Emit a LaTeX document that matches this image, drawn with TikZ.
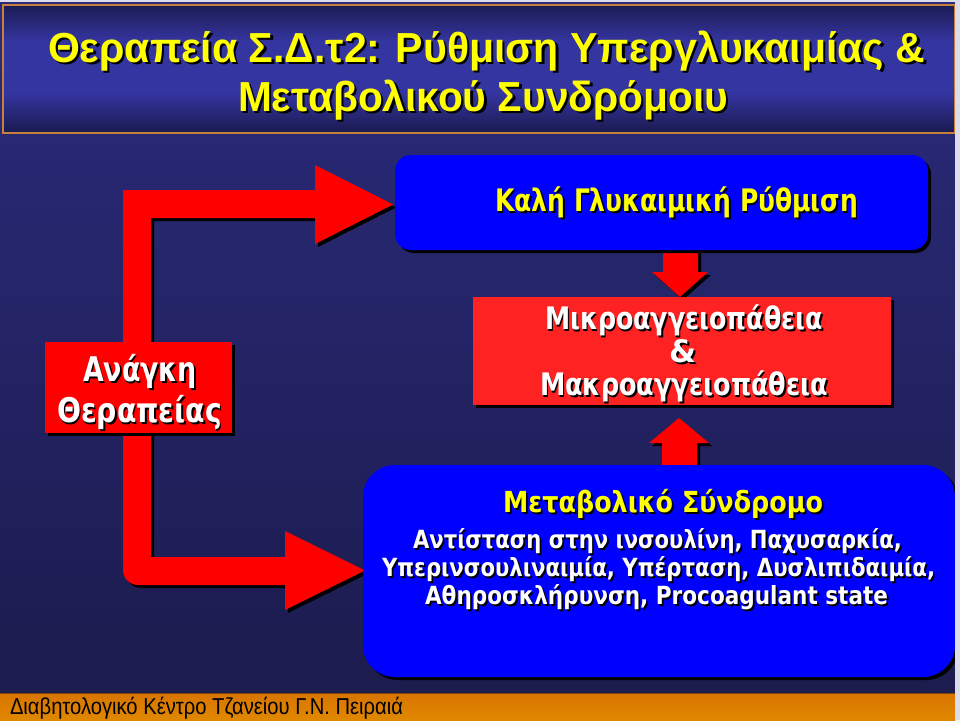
\documentclass[tikz,border=0pt]{standalone}
\usepackage{fontspec}
\usepackage{graphicx}
\newfontfamily\arialf{Liberation Sans}
\newfontfamily\comicf{DejaVu Sans}
\definecolor{bgtop}{HTML}{2B2B7C}
\definecolor{bgmid}{HTML}{333399}
\definecolor{bgbot}{HTML}{1B1B4C}
\definecolor{tttop}{HTML}{1C1C54}
\definecolor{ttmid}{HTML}{3535A2}
\definecolor{ttbot}{HTML}{1A1A50}
\definecolor{ttborder}{HTML}{C8803F}
\definecolor{fttop}{HTML}{D87400}
\definecolor{ftmid}{HTML}{FFAA00}
\definecolor{ftbot}{HTML}{E08800}
\definecolor{arrred}{HTML}{FF0000}
\definecolor{midred}{HTML}{FF2222}
\definecolor{boxblue}{HTML}{0000FF}
\definecolor{txtyellow}{HTML}{FFFF00}
\definecolor{edgegrey}{HTML}{DCDCEA}
\newsavebox\fitbox
\newcommand\fitto[2]{\sbox\fitbox{#2}\pgfmathsetmacro\fitratio{#1/\the\wd\fitbox}\scalebox{\fitratio}[1]{\usebox\fitbox}}
\newcommand\shtxt[3]{\makebox[0pt][l]{\hspace*{#2}\raisebox{-#2}{\color{black}#3}}{\color{#1}#3}}
\newcommand\titlef{\arialf\bfseries\fontsize{42}{46}\selectfont}
\newcommand\goodf{\comicf\bfseries\fontsize{31}{36}\selectfont}
\newcommand\needf{\comicf\bfseries\fontsize{34}{38}\selectfont}
\newcommand\midf{\comicf\bfseries\fontsize{31}{36}\selectfont}
\newcommand\headf{\comicf\bfseries\fontsize{29}{34}\selectfont}
\newcommand\linef{\comicf\bfseries\fontsize{25}{29}\selectfont}
\newcommand\footf{\arialf\fontsize{23}{26}\selectfont}
\tikzset{
  shd/.style={preaction={fill=black, transform canvas={shift={(3pt,-3pt)}}}},
  boxnode/.style={inner sep=0pt, outer sep=0pt, draw=none, shd},
  txt/.style={inner sep=0pt, outer sep=0pt},
  redshape/.style={fill=arrred, shd}
}
\begin{document}
\begin{tikzpicture}[x=1pt,y=-1pt]
\useasboundingbox (0,0) rectangle (960,720);
% page and slide background
\fill[edgegrey] (0,0) rectangle (960,720);
\shade[top color=bgtop, middle color=bgmid, bottom color=bgbot] (0,2) rectangle (955,720);
% title banner
\shade[top color=tttop, bottom color=ttmid] (3,5) rectangle (955,42);
\fill[ttmid] (3,41.5) rectangle (955,92.5);
\shade[top color=ttmid, bottom color=ttbot] (3,92) rectangle (955,133);
\draw[ttborder, line width=1.5pt] (3,5) rectangle (955,133);
% footer
\shade[top color=fttop, middle color=ftmid, bottom color=ftbot] (0,693) rectangle (955,720);
\draw[fttop!60!black, line width=1pt] (0,693) -- (955,693);

% big bracket arrow
\draw[redshape, draw=none] (123,190) -- (315,190) -- (315,165) -- (393,204.5) -- (315,244) -- (315,218)
  -- (151,218) -- (151,557) -- (285,557) -- (285,531) -- (365,570.5) -- (285,610) -- (285,585)
  -- (138,585) .. controls (129.7,585) and (123,578.3) .. (123,570) -- cycle;
% down arrow
\draw[redshape, draw=none] (663,250) -- (698,250) -- (698,272) -- (708,272) -- (680,297) -- (652,272) -- (663,272) -- cycle;
% up arrow
\draw[redshape, draw=none] (679,418) -- (709,443) -- (697,443) -- (697,465) -- (662,465) -- (662,443) -- (649,443) -- cycle;

% boxes
\node[boxnode, fill=boxblue, rounded corners=16pt, minimum width=533pt, minimum height=95pt] (good) at (661.5,202.5) {};
\node[boxnode, fill=arrred, minimum width=187pt, minimum height=91pt] (need) at (138.5,387.5) {};
\node[boxnode, fill=midred, minimum width=418pt, minimum height=108pt] (mid) at (682,351) {};
\node[boxnode, fill=boxblue, rounded corners=32pt, minimum width=592pt, minimum height=212pt] (meta) at (659,571) {};
\fill[edgegrey] (955,0) rectangle (960,720);

% title text
\node[txt, anchor=base west] (t1) at (48,62) {\fitto{877}{\titlef\shtxt{txtyellow}{2.5pt}{Θεραπεία Σ.Δ.τ2: Ρύθμιση Υπεργλυκαιμίας \&}}};
\node[txt, anchor=base west] (t2) at (238,111) {\fitto{490}{\titlef\shtxt{txtyellow}{2.5pt}{Μεταβολικού Συνδρόμοιυ}}};

% box texts
\node[txt, anchor=base west] (goodtxt) at (495,211) {\fitto{363}{\goodf\shtxt{txtyellow}{2pt}{Καλή Γλυκαιμική Ρύθμιση}}};
\node[txt, anchor=base west] (need1) at (83,381) {\fitto{114}{\needf\shtxt{white}{2pt}{Ανάγκη}}};
\node[txt, anchor=base west] (need2) at (57,422) {\fitto{165}{\needf\shtxt{white}{2pt}{Θεραπείας}}};
\node[txt, anchor=base west] (mid1) at (545,329) {\fitto{278}{\midf\shtxt{white}{2pt}{Μικροαγγειοπάθεια}}};
\node[txt, anchor=base] (mid2) at (683,362) {\midf\shtxt{white}{2pt}{\&}};
\node[txt, anchor=base west] (mid3) at (540,395) {\fitto{288}{\midf\shtxt{white}{2pt}{Μακροαγγειοπάθεια}}};
\node[txt, anchor=base west] (head) at (503,512) {\fitto{320}{\headf\shtxt{txtyellow}{2pt}{Μεταβολικό Σύνδρομο}}};
\node[txt, anchor=base west] (l1) at (413,548) {\fitto{489}{\linef\shtxt{white}{2pt}{Αντίσταση στην ινσουλίνη, Παχυσαρκία,}}};
\node[txt, anchor=base west] (l2) at (382,576) {\fitto{553}{\linef\shtxt{white}{2pt}{Υπερινσουλιναιμία, Υπέρταση, Δυσλιπιδαιμία,}}};
\node[txt, anchor=base west] (l3) at (425,604) {\fitto{463}{\linef\shtxt{white}{2pt}{Αθηροσκλήρυνση, Procoagulant state}}};

% footer text
\node[txt, anchor=base west] (foot) at (10,714) {\fitto{393}{\footf Διαβητολογικό Κέντρο Τζανείου Γ.Ν. Πειραιά}};
\end{tikzpicture}
\end{document}
